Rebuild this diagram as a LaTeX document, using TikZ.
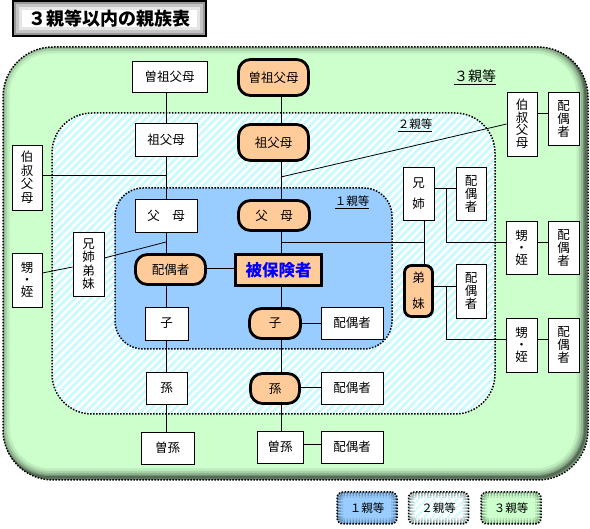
\documentclass[tikz,border=0pt]{standalone}
\usepackage{fontspec}
\setmainfont{Noto Sans CJK JP}
\usetikzlibrary{patterns.meta}
\definecolor{grn}{HTML}{CCFFCC}
\definecolor{cyn}{HTML}{C8FAFF}
\definecolor{blu}{HTML}{99CCFF}
\definecolor{org}{HTML}{FFCC99}
\definecolor{bluetxt}{HTML}{0000FF}
\newcommand\myNF{\fontsize{12.5pt}{13pt}\selectfont}
\newcommand\myVF{\fontsize{12.5pt}{12pt}\selectfont}
\tikzset{
  box/.style={draw, line width=0.8pt, fill=white, inner sep=0pt, align=center, font=\myNF},
  wb/.style 2 args={box, minimum width=#1, minimum height=#2},
  ob/.style 2 args={box, fill=org, line width=2.8pt, rounded corners=12pt, minimum width=#1, minimum height=#2},
  dotb/.style={line width=1.5pt, dash pattern=on 1.5pt off 1.5pt},
  conn/.style={line width=0.8pt},
  stripes/.style={pattern={Lines[angle=45,distance=5.5pt,line width=2.7pt]}, pattern color=cyn},
  glow/.style={path picture={
     \foreach \w/\o in {12/0.12,8/0.16,4/0.25}
       \draw[line width=\w pt, black, opacity=\o, rounded corners=#1]
         (path picture bounding box.south west) rectangle (path picture bounding box.north east);}},
  legbox/.style={draw, dotb, rounded corners=6pt, minimum width=60pt, minimum height=32pt,
     inner sep=0pt, font=\fontsize{11.5pt}{12pt}\selectfont, glow=6pt},
}
\begin{document}
\begin{tikzpicture}[x=1pt,y=-1pt]
\useasboundingbox (0,0) rectangle (590,529);

% title
\node[draw, line width=1.5pt, fill=white, minimum width=193pt, minimum height=35pt, inner sep=0pt,
  font=\fontsize{18pt}{20pt}\selectfont\bfseries,
  path picture={\foreach \w/\o in {18/0.10,12/0.14,6/0.22}
     \draw[line width=\w pt, black, opacity=\o]
       (path picture bounding box.south west) rectangle (path picture bounding box.north east);}]
  (title) at (109.5,18.5) {３親等以内の親族表};

% outer region (3)
\path[fill=grn, rounded corners=50pt, path picture={
  \foreach \w/\o in {18/0.08,13/0.10,9/0.14,5/0.2,2.5/0.25}
   \draw[line width=\w pt, black, opacity=\o, rounded corners=50pt]
     ([shift={(-2.5pt,2.5pt)}]path picture bounding box.south west) rectangle ([shift={(-2.5pt,2.5pt)}]path picture bounding box.north east);
}] (3,47) rectangle (588,480);
\draw[dotb, rounded corners=50pt] (3,47) rectangle (588,480);

% middle region (2)
\path[fill=white, rounded corners=40pt] (52,113) rectangle (495,414);
\path[stripes, rounded corners=40pt] (52,113) rectangle (495,414);
\draw[dotb, rounded corners=40pt] (52,113) rectangle (495,414);

% inner region (1)
\draw[dotb, fill=blu, rounded corners=28pt] (115,188) rectangle (392,349);

% region labels
\node[inner sep=1pt, font=\fontsize{14pt}{15pt}\selectfont] (lab3) at (475,77) {\underline{３親等}};
\node[inner sep=1pt, font=\fontsize{11.5pt}{12pt}\selectfont] (lab2) at (415,125) {\underline{２親等}};
\node[inner sep=1pt, font=\fontsize{11.5pt}{12pt}\selectfont] (lab1) at (352,202) {\underline{１親等}};

% left (white) column
\node[wb={75pt}{31pt}] (ggpW) at (169.5,76.5) {曽祖父母};
\node[wb={62pt}{33pt}] (gpW) at (166,139.5) {祖父母};
\node[wb={62pt}{33pt}] (parW) at (166,215.5) {父　母};
\node[ob={70pt}{30pt}] (spO) at (170.5,269.5) {配偶者};
\node[wb={43pt}{33pt}] (chW) at (166.5,323.5) {子};
\node[wb={41pt}{32pt}] (gcW) at (166.5,388) {孫};
\node[wb={53pt}{32pt}] (ggcW) at (167.5,448) {曽孫};

% central (orange) column
\node[ob={70pt}{36pt}] (ggpO) at (273.5,77.5) {曽祖父母};
\node[ob={70pt}{36pt}] (gpO) at (273.5,142.5) {祖父母};
\node[ob={71pt}{30pt}] (parO) at (274,215.5) {父　母};
\node[box, fill=org, line width=3pt, minimum width=86pt, minimum height=31pt,
      font=\fontsize{16.5pt}{18pt}\selectfont\bfseries, text=bluetxt] (self) at (278.5,270) {被保険者};
\node[ob={51pt}{30pt}] (chO) at (275,323.5) {子};
\node[ob={49pt}{30pt}] (gcO) at (275,388.5) {孫};
\node[wb={46pt}{32pt}] (ggcC) at (280,447) {曽孫};

% spouses of descendants
\node[wb={62pt}{32pt}] (chSp) at (352,323) {配偶者};
\node[wb={62pt}{32pt}] (gcSp) at (352,388) {配偶者};
\node[wb={62pt}{32pt}] (ggcSp) at (352,447) {配偶者};

% left collateral
\node[wb={30pt}{65pt}, font=\fontsize{12.5pt}{13.5pt}\selectfont] (uncL) at (27,177.5) {伯\\叔\\父\\母};
\node[wb={31pt}{64pt}, font=\fontsize{12.5pt}{13.5pt}\selectfont] (sibL) at (88.5,264) {兄\\姉\\弟\\妹};
\node[wb={30pt}{54pt}, font=\myVF] (nepL) at (27,280) {甥\\・\\姪};

% right collateral
\node[wb={30pt}{64pt}, font=\fontsize{12.5pt}{12.5pt}\selectfont] (uncR) at (522,124) {伯\\叔\\父\\母};
\node[wb={31pt}{53pt}] (uncRsp) at (563.5,118.5) {配\\偶\\者};
\node[wb={31pt}{53pt}] (sibA) at (418.5,193.5) {兄\\[8pt]姉};
\node[wb={30pt}{53pt}] (sibAsp) at (471,193.5) {配\\偶\\者};
\node[box, fill=org, line width=2.8pt, rounded corners=7pt, minimum width=28pt, minimum height=51pt] (sibB) at (418.5,291) {弟\\[13pt]妹};
\node[wb={30pt}{54pt}] (sibBsp) at (471,291) {配\\偶\\者};
\node[wb={31pt}{53pt}, font=\myVF] (nepA) at (521.5,247.5) {甥\\・\\姪};
\node[wb={31pt}{53pt}] (nepAsp) at (563.5,247.5) {配\\偶\\者};
\node[wb={31pt}{54pt}, font=\myVF] (nepB) at (521.5,345) {甥\\・\\姪};
\node[wb={31pt}{54pt}] (nepBsp) at (563.5,345) {配\\偶\\者};

% junction coordinates
\coordinate (colL) at (166,0);
\coordinate (spine) at (281,0);
\coordinate (jUncL) at (166,175);
\coordinate (jSibL) at (166,242);
\coordinate (jUncR) at (281,177);
\coordinate (jSib) at (281,242);
\coordinate (sibCol) at (424,242);
\coordinate (bA) at (446,188);
\coordinate (bB) at (446,286);

% left column lines
\draw[conn] (ggpW.south -| colL) -- (gpW.north -| colL);
\draw[conn] (gpW.south -| colL) -- (parW.north -| colL);
\draw[conn] (parW.south -| colL) -- (spO.north -| colL);
\draw[conn] (spO.south -| colL) -- (chW.north -| colL);
\draw[conn] (chW.south -| colL) -- (gcW.north -| colL);
\draw[conn] (gcW.south -| colL) -- (ggcW.north -| colL);

% spine lines
\draw[conn] (ggpO.south -| spine) -- (gpO.north -| spine);
\draw[conn] (gpO.south -| spine) -- (parO.north -| spine);
\draw[conn] (parO.south -| spine) -- (self.north -| spine);
\draw[conn] (self.south -| spine) -- (chO.north -| spine);
\draw[conn] (chO.south -| spine) -- (gcO.north -| spine);
\draw[conn] (gcO.south -| spine) -- (ggcC.north -| spine);

% horizontal links
\draw[conn] (self.west |- 0,268) -- (spO.east |- 0,268);
\draw[conn] (chO.east |- chSp.west) -- (chSp.west);
\draw[conn] (gcO.east |- 0,387) -- (gcSp.west |- 0,387);
\draw[conn] (ggcC.east |- 0,444) -- (ggcSp.west |- 0,444);

% left collateral links
\draw[conn] (uncL.east |- jUncL) -- (jUncL);
\draw[conn] (jSibL) -- ([yshift=6pt]sibL.east);
\draw[conn] ([yshift=-3pt]sibL.west) -- ([yshift=7pt]nepL.east);

% right collateral links
\draw[conn] (jUncR) -- (uncR.west);
\draw[conn] (uncR.east |- 0,113) -- (uncRsp.west |- 0,113);
\draw[conn] (jSib) -- (sibCol);
\draw[conn] (sibA.south -| sibCol) -- (sibB.north -| sibCol);
\draw[conn] (sibA.east |- bA) -- (sibAsp.west |- bA);
\draw[conn] (bA) |- (nepA.west |- 0,242);
\draw[conn] (nepA.east |- 0,242) -- (nepAsp.west |- 0,242);
\draw[conn] (sibB.east |- bB) -- (sibBsp.west |- bB);
\draw[conn] (bB) |- (nepB.west |- 0,339);
\draw[conn] (nepB.east |- 0,339) -- (nepBsp.west |- 0,339);

% legend
\node[legbox, fill=blu] (leg1) at (367,508) {１親等};
\node[legbox, preaction={fill=white}, stripes] (leg2) at (438.5,508) {２親等};
\node[legbox, fill=grn] (leg3) at (511,508) {３親等};
\end{tikzpicture}
\end{document}
